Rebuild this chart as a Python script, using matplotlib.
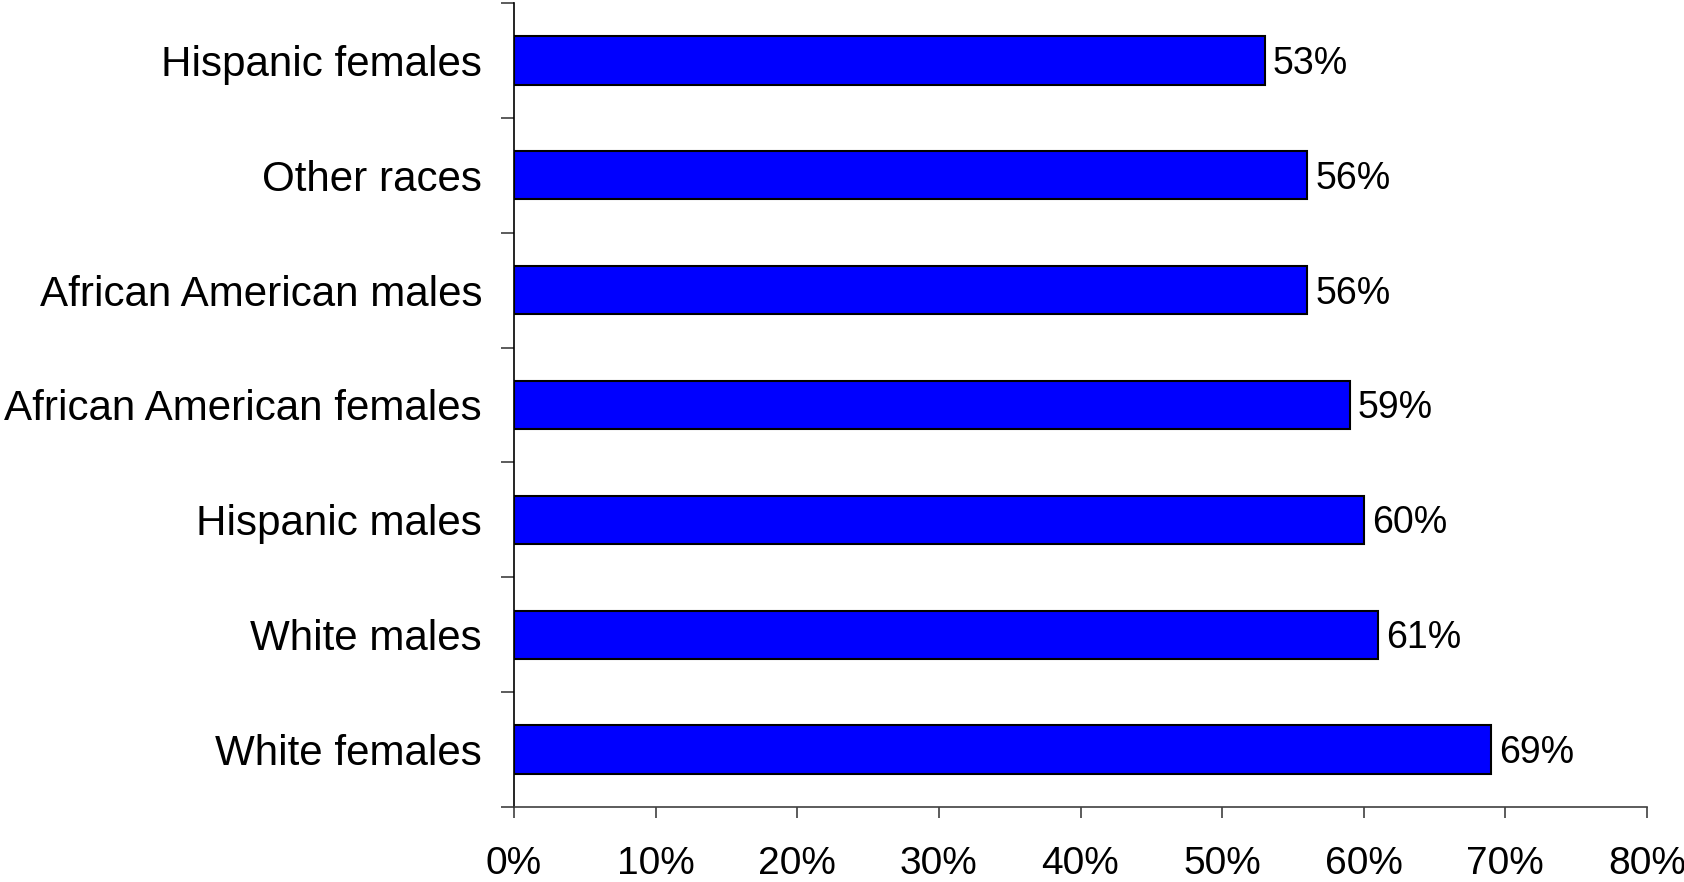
import numpy as np
from matplotlib import pyplot as plt

# values, bottom category first
groups = ['White females', 'White males', 'Hispanic males',
          'African American females', 'African American males',
          'Other races', 'Hispanic females']
shares = [69, 61, 60, 59, 56, 56, 53]
xtick_values = [0, 10, 20, 30, 40, 50, 60, 70, 80]

plt.rcParams['font.family'] = ['Liberation Sans', 'DejaVu Sans']

fig = plt.figure(figsize=(16.84, 8.82), dpi=100)
ax = fig.add_axes([514 / 1684, 75 / 882, (1647 - 514) / 1684, 804 / 882])

pos = np.arange(len(groups))
bars = ax.barh(pos, shares, height=0.42, color='#0000ff',
               edgecolor='black', linewidth=1.5)

for b, v in zip(bars, shares):
    ax.annotate(f'{v}%', (b.get_width(), b.get_y() + b.get_height() / 2),
                xytext=(6, -2.5), textcoords='offset points',
                va='center', ha='left', fontsize=27)

ax.set_xlim(0, 80)
ax.set_ylim(-0.5, len(groups) - 0.5)

ax.set_xticks(xtick_values)
ax.set_xticklabels([f'{v}%' for v in xtick_values], fontsize=28)
ax.tick_params(axis='x', direction='out', length=8, width=1.2,
               color='#404040', pad=20)

# category boundaries carry the ticks, labels sit at the centres
ax.set_yticks(np.arange(-0.5, len(groups)), labels=[])
ax.set_yticks(pos, labels=groups, minor=True)
ax.tick_params(axis='y', which='major', direction='out', length=9.5,
               width=1.2, color='#404040')
ax.tick_params(axis='y', which='minor', length=0, pad=23, labelsize=30.3)

for side in ['top', 'right']:
    ax.spines[side].set_visible(False)
ax.spines['left'].set_linewidth(1.2)
ax.spines['bottom'].set_linewidth(1.2)
ax.spines['bottom'].set_color('#404040')

fig.savefig('out.png', dpi=100)
